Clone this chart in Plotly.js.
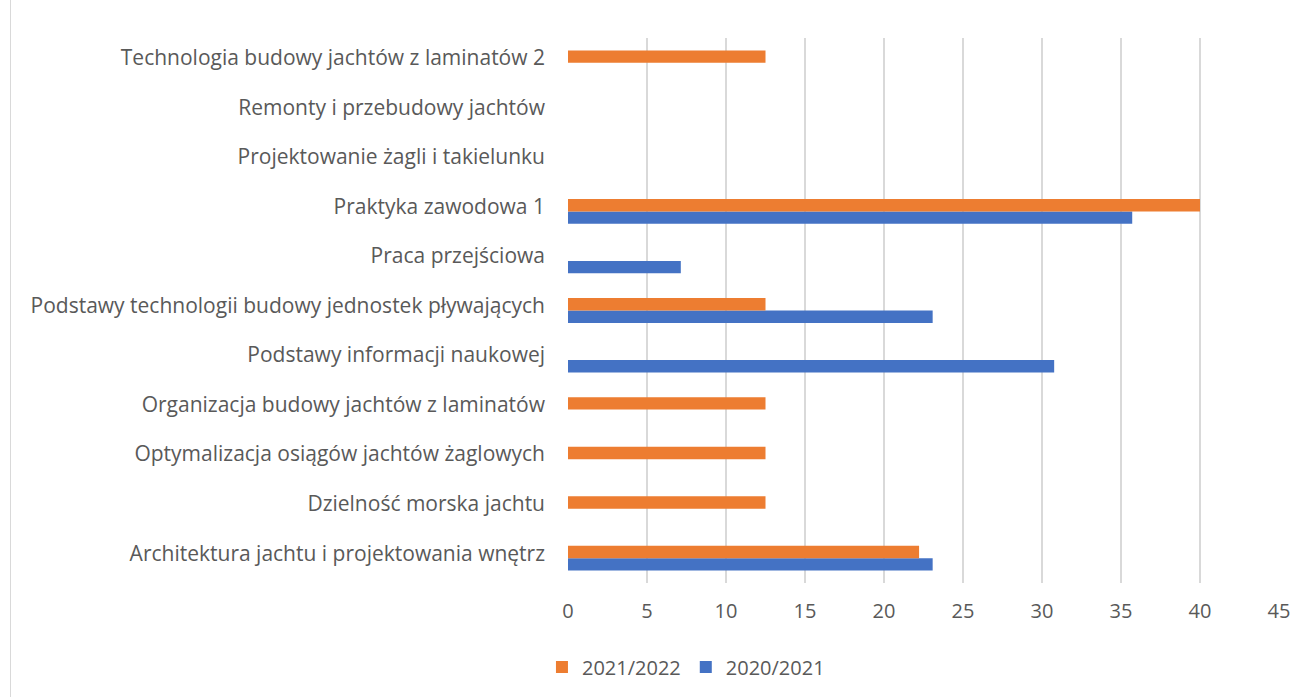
<!DOCTYPE html>
<html>
<head>
<meta charset="utf-8">
<script src="https://cdn.plot.ly/plotly-3.0.1.min.js"></script>
<style>
  html, body { margin: 0; padding: 0; background: #ffffff; overflow: hidden; }
  #frame { position: absolute; left: 10px; top: 0; width: 1299px; height: 697px; border-left: 1px solid #d9d9d9; }
  #chart { width: 1298px; height: 697px; }
</style>
</head>
<body>
<div id="frame"><div id="chart"></div></div>
<script>
const categories = [
  "Architektura jachtu i projektowania wnętrz",
  "Dzielność morska jachtu",
  "Optymalizacja osiągów jachtów żaglowych",
  "Organizacja budowy jachtów z laminatów",
  "Podstawy informacji naukowej",
  "Podstawy technologii budowy jednostek pływających",
  "Praca przejściowa",
  "Praktyka zawodowa 1",
  "Projektowanie żagli i takielunku",
  "Remonty i przebudowy jachtów",
  "Technologia budowy jachtów z laminatów 2"
];
const series2020_2021 = [23.08, null, null, null, 30.77, 23.08, 7.14, 35.71, null, null, null];
const series2021_2022 = [22.22, 12.5, 12.5, 12.5, null, 12.5, null, 40, null, null, 12.5];
const xTicks = [0, 5, 10, 15, 20, 25, 30, 35, 40, 45];

const font = "'Open Sans', sans-serif";
const textColor = "#595959";

const traces = [
  { type: "bar", orientation: "h", name: "2020/2021", y: categories, x: series2020_2021,
    marker: { color: "#4472C4" }, hoverinfo: "x+y" },
  { type: "bar", orientation: "h", name: "2021/2022", y: categories, x: series2021_2022,
    marker: { color: "#ED7D31" }, hoverinfo: "x+y" }
];

const layout = {
  width: 1298, height: 697,
  margin: { l: 557, r: 30, t: 38, b: 114 },
  paper_bgcolor: "#ffffff", plot_bgcolor: "#ffffff",
  barmode: "group", bargap: 0.5, bargroupgap: 0,
  font: { family: font, size: 21, color: textColor },
  xaxis: {
    range: [0, 45], tickvals: xTicks, ticktext: xTicks.map(String),
    showgrid: true, gridcolor: "#d9d9d9", gridwidth: 1.3,
    zeroline: false, showline: false, ticks: "",
    ticklabelstandoff: 14,
    tickfont: { family: font, size: 20, color: textColor }
  },
  yaxis: {
    type: "category", categoryorder: "array", categoryarray: categories,
    showgrid: false, zeroline: false, showline: false, ticks: "",
    ticklabelstandoff: 22, ticklabelshift: -5,
    tickfont: { family: font, size: 21, color: textColor }
  },
  showlegend: true,
  legend: {
    orientation: "h", traceorder: "reversed",
    xref: "container", yref: "container",
    x: 0.52, xanchor: "center", y: 0.043, yanchor: "middle",
    font: { family: font, size: 20, color: textColor },
    itemwidth: 30
  }
};

Plotly.newPlot("chart", traces, layout, { displayModeBar: false, staticPlot: true });
</script>
</body>
</html>
